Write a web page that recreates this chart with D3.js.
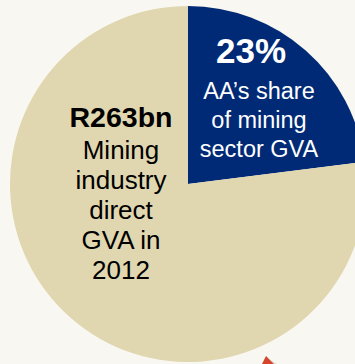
<!DOCTYPE html>
<html>
<head>
<meta charset="utf-8">
<script src="https://cdn.jsdelivr.net/npm/d3@7/dist/d3.min.js"></script>
<style>
  html, body { margin: 0; padding: 0; background: #f9f7f1; }
  svg { display: block; }
  text { font-family: "Liberation Sans", Arial, Helvetica, sans-serif; }
</style>
</head>
<body>
<script>
// Mining sector direct GVA, 2012 — Anglo American share vs rest of industry
const segments = ["AA", "Rest of mining"];
const shares = [23, 77];
const segmentColors = ["#002a76", "#e0d7b0"];

const headline = "23%";
const shareLines = ["AA\u2019s share", "of mining", "sector GVA"];
const totalHeadline = "R263bn";
const totalLines = ["Mining", "industry", "direct", "GVA in", "2012"];

const W = 355, H = 364;
const cx = 188, cy = 184, R = 178;

const svg = d3.select("body").append("svg")
  .attr("width", W).attr("height", H);

svg.append("rect").attr("width", W).attr("height", H).attr("fill", "#f9f7f1");

const pie = d3.pie().sort(null).value(d => d.value);
const arc = d3.arc().innerRadius(0).outerRadius(R);

const data = segments.map((s, i) => ({ name: s, value: shares[i] }));

const g = svg.append("g").attr("transform", `translate(${cx},${cy})`);

g.selectAll("path.slice")
  .data(pie(data))
  .join("path")
  .attr("class", "slice")
  .attr("d", arc)
  .attr("fill", (d, i) => segmentColors[i]);

// Label inside the AA slice
const share = g.append("g").attr("fill", "#ffffff").attr("text-anchor", "middle");
share.append("text")
  .attr("x", 63).attr("y", -121)
  .attr("font-size", 35).attr("font-weight", "bold")
  .text(headline);
shareLines.forEach((t, i) => {
  share.append("text")
    .attr("x", 71).attr("y", -85 + i * 29)
    .attr("font-size", 23.5)
    .text(t);
});

// Label inside the rest of the pie
const total = g.append("g").attr("fill", "#000000").attr("text-anchor", "middle");
total.append("text")
  .attr("x", -67).attr("y", -57)
  .attr("font-size", 28.5).attr("font-weight", "bold")
  .text(totalHeadline);
totalLines.forEach((t, i) => {
  total.append("text")
    .attr("x", -67).attr("y", -25 + i * 30)
    .attr("font-size", 26)
    .text(t);
});

// Tip of the pointer arrow entering from below
svg.append("path")
  .attr("d", "M274,364 L266,356 L262,364 Z")
  .attr("fill", "#d4452b");
svg.append("path")
  .attr("d", "M274,364 L268,358 L277,364 Z")
  .attr("fill", "#c9c6bf").attr("opacity", 0.5);
</script>
</body>
</html>
